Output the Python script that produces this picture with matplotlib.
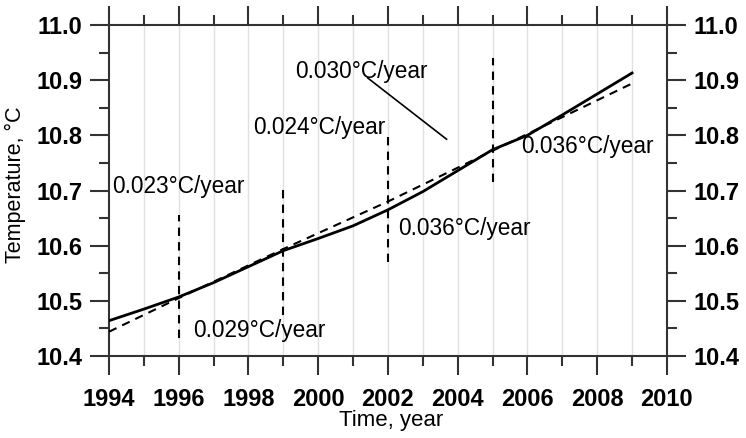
import numpy as np
import matplotlib
matplotlib.use("Agg")
import matplotlib.pyplot as plt
from matplotlib.ticker import MultipleLocator

plt.rcParams['font.family'] = ['Liberation Sans', 'DejaVu Sans']

# smoothed temperature (solid)
years = [1994, 1995, 1996, 1997, 1998, 1999, 2000, 2001, 2002, 2003, 2004, 2005, 2006, 2007, 2008, 2009]
temp = [10.464, 10.485, 10.507, 10.533, 10.562, 10.591, 10.613, 10.636, 10.665, 10.698, 10.736, 10.774, 10.800, 10.837, 10.875, 10.913]

# piecewise linear trends (dashed)
trend_years = [1994, 1996, 1999, 2002, 2005, 2009]
trend_temp = [10.444, 10.505, 10.594, 10.680, 10.772, 10.894]

# vertical break markers
break_years = [1996, 1999, 2002, 2005]
break_lo = [10.433, 10.474, 10.570, 10.715]
break_hi = [10.656, 10.706, 10.799, 10.940]

# rate labels
label_text = ['0.023°C/year', '0.029°C/year', '0.024°C/year', '0.030°C/year', '0.036°C/year', '0.036°C/year']
label_x = [1994.08, 1996.41, 1998.13, 1999.33, 2002.28, 2005.83]
label_y = [10.708, 10.447, 10.815, 10.915, 10.632, 10.779]
leader_x = [2001.42, 2003.68]
leader_y = [10.904, 10.793]

fig = plt.figure(figsize=(7.46, 4.38), dpi=100)
ax = fig.add_axes([0.1461, 0.1872, 0.7479, 0.7557])

for yr in range(1995, 2010):
    ax.axvline(yr, color='#e0e0e0', lw=1, zorder=0)

ax.plot(years, temp, color='black', lw=2, zorder=3)
ax.plot(trend_years, trend_temp, color='black', lw=1.5, ls=(0, (4, 3)), zorder=3)
ax.vlines(break_years, break_lo, break_hi, colors='black', lw=1.5, linestyles=(0, (4, 3)), zorder=3)
ax.plot(leader_x, leader_y, color='black', lw=1.2)

for t, x, y in zip(label_text, label_x, label_y):
    ax.text(x, y, t, fontsize=16.3, va='center', ha='left')

ax.set_xlim(1994, 2010)
ax.set_ylim(10.4, 11.0)
ax.xaxis.set_major_locator(MultipleLocator(2))
ax.xaxis.set_minor_locator(MultipleLocator(1))
ax.yaxis.set_major_locator(MultipleLocator(0.1))
ax.yaxis.set_minor_locator(MultipleLocator(0.05))
ax.yaxis.set_major_formatter(plt.FormatStrFormatter('%.1f'))

ax.tick_params(which='both', direction='out', top=True, right=True, labelright=True,
               color='#333333', width=1.5)
ax.tick_params(which='major', length=14, labelsize=17, pad=5)
ax.tick_params(which='minor', length=7)
ax.tick_params(axis='x', which='major', pad=9)
for lab in ax.get_xticklabels() + ax.get_yticklabels():
    lab.set_fontweight('bold')
for s in ax.spines.values():
    s.set_color('#333333')
    s.set_linewidth(1.5)

ax.set_xlabel('Time, year', fontsize=16)
ax.set_ylabel('Temperature, °C', fontsize=15.5)
ax.xaxis.set_label_coords(0.505, -0.163)
ax.yaxis.set_label_coords(-0.149, 0.517)

fig.savefig('out.png', dpi=100)
